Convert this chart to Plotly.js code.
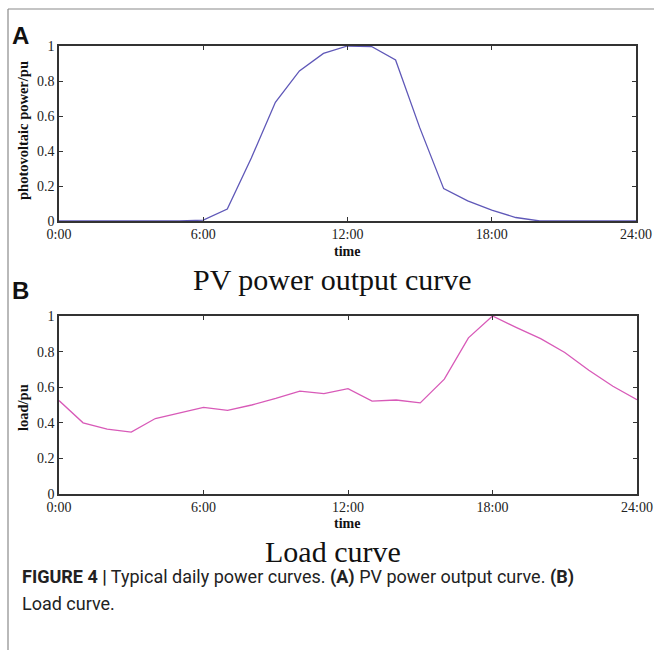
<!DOCTYPE html>
<html>
<head>
<meta charset="utf-8">
<script src="https://cdn.plot.ly/plotly-3.0.1.min.js"></script>
<style>html,body{margin:0;padding:0;background:#fff;}#chart{width:654px;height:650px;}</style>
</head>
<body>
<div id="chart"></div>
<script>
// ---- data ----
var hours = [0,1,2,3,4,5,6,7,8,9,10,11,12,13,14,15,16,17,18,19,20,21,22,23,24];
var pvPower = [0,0,0,0,0,0,0.005,0.068,0.36,0.678,0.858,0.958,1.0,0.997,0.92,0.535,0.185,0.115,0.062,0.02,0,0,0,0,0];
var loadPower = [0.525,0.400,0.365,0.348,0.424,0.457,0.487,0.470,0.500,0.537,0.578,0.564,0.592,0.522,0.528,0.512,0.645,0.877,1.0,0.935,0.873,0.795,0.695,0.605,0.530];
var tickHours = [0,6,12,18,24];
var tickLabels = ["0:00","6:00","12:00","18:00","24:00"];
var yTicks = [0,0.2,0.4,0.6,0.8,1];

var W = 654, H = 650;
function px(x){return x/W;}
function py(y){return 1 - y/H;}

var serif = "Liberation Serif, Times New Roman, serif";
var axisCommon = {
  range:[0,24], tickmode:'array', tickvals:tickHours, ticktext:tickLabels,
  ticks:'inside', ticklen:4, tickwidth:1, tickcolor:'#333',
  showline:true, linecolor:'#333333', linewidth:1.6, mirror:'ticks',
  showgrid:false, zeroline:false, fixedrange:true,
  tickfont:{family:serif, size:14, color:'#222'}
};
var yCommon = {
  range:[0,1], tickmode:'array', tickvals:yTicks,
  ticks:'inside', ticklen:4, tickwidth:1, tickcolor:'#333',
  showline:true, linecolor:'#333333', linewidth:1.6, mirror:'ticks',
  showgrid:false, zeroline:false, fixedrange:true,
  tickfont:{family:serif, size:14, color:'#222'}
};

var traces = [
  {x:hours, y:pvPower, type:'scatter', mode:'lines', xaxis:'x', yaxis:'y',
   line:{color:'#5f58b8', width:1.3}, hoverinfo:'skip'},
  {x:hours, y:loadPower, type:'scatter', mode:'lines', xaxis:'x2', yaxis:'y2',
   line:{color:'#d85ab8', width:1.3}, hoverinfo:'skip'}
];

var layout = {
  width:W, height:H, margin:{l:0,r:0,t:0,b:0},
  paper_bgcolor:'#fff', plot_bgcolor:'#fff', showlegend:false,
  xaxis: Object.assign({}, axisCommon, {domain:[px(59), px(636)], anchor:'y'}),
  yaxis: Object.assign({}, yCommon, {domain:[py(221), py(46)], anchor:'x'}),
  xaxis2: Object.assign({}, axisCommon, {domain:[px(59), px(637)], anchor:'y2'}),
  yaxis2: Object.assign({}, yCommon, {domain:[py(494), py(316)], anchor:'x2'}),
  shapes:[
    {type:'line', xref:'paper', yref:'paper', x0:px(8), x1:px(8), y0:py(9), y1:0, line:{color:'#8a8a8a', width:1.2}},
    {type:'line', xref:'paper', yref:'paper', x0:px(8), x1:1, y0:py(9), y1:py(9), line:{color:'#8a8a8a', width:1.2}}
  ],
  annotations:[
    {text:'<b>A</b>', xref:'paper', yref:'paper', x:px(10), y:py(36), xanchor:'left', yanchor:'middle', showarrow:false, font:{family:'Liberation Sans, Arial, sans-serif', size:24, color:'#111'}},
    {text:'<b>B</b>', xref:'paper', yref:'paper', x:px(10), y:py(291), xanchor:'left', yanchor:'middle', showarrow:false, font:{family:'Liberation Sans, Arial, sans-serif', size:24, color:'#111'}},
    {text:'<b>photovoltaic power/pu</b>', xref:'paper', yref:'paper', x:px(23), y:py(131), textangle:-90, xanchor:'center', yanchor:'middle', showarrow:false, font:{family:serif, size:14.5, color:'#111'}},
    {text:'<b>load/pu</b>', xref:'paper', yref:'paper', x:px(23), y:py(408), textangle:-90, xanchor:'center', yanchor:'middle', showarrow:false, font:{family:serif, size:14.5, color:'#111'}},
    {text:'<b>time</b>', xref:'paper', yref:'paper', x:px(347), y:py(251), xanchor:'center', yanchor:'middle', showarrow:false, font:{family:serif, size:14, color:'#111'}},
    {text:'<b>time</b>', xref:'paper', yref:'paper', x:px(347), y:py(523), xanchor:'center', yanchor:'middle', showarrow:false, font:{family:serif, size:14, color:'#111'}},
    {text:'PV power output curve', xref:'paper', yref:'paper', x:px(333), y:py(279), xanchor:'center', yanchor:'middle', showarrow:false, font:{family:serif, size:30, color:'#111'}},
    {text:'Load curve', xref:'paper', yref:'paper', x:px(333), y:py(551), xanchor:'center', yanchor:'middle', showarrow:false, font:{family:serif, size:30, color:'#111'}},
    {text:'<b>FIGURE 4 |</b> Typical daily power curves. <b>(A)</b> PV power output curve. <b>(B)</b>', xref:'paper', yref:'paper', x:px(20), y:py(577), xanchor:'left', yanchor:'middle', showarrow:false, font:{family:'Roboto, Liberation Sans, sans-serif', size:18, color:'#222'}},
    {text:'Load curve.', xref:'paper', yref:'paper', x:px(20), y:py(603), xanchor:'left', yanchor:'middle', showarrow:false, font:{family:'Roboto, Liberation Sans, sans-serif', size:18, color:'#222'}}
  ]
};

Plotly.newPlot('chart', traces, layout, {staticPlot:true, displayModeBar:false});
</script>
</body>
</html>
